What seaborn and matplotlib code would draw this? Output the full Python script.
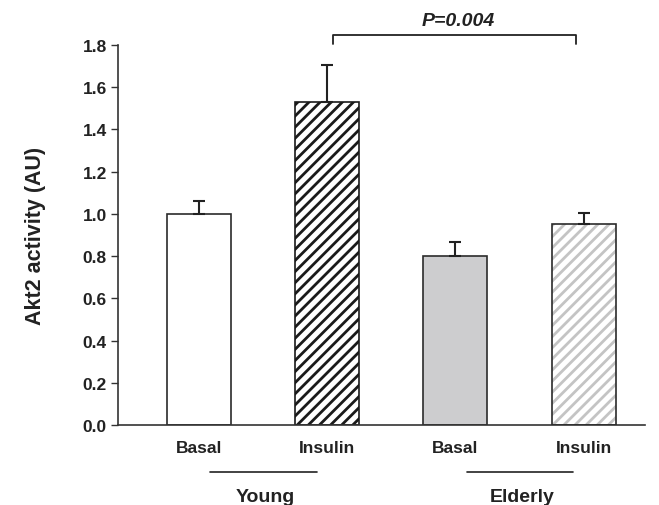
import numpy as np
import pandas as pd
import seaborn as sns
import matplotlib
matplotlib.use('Agg')
from matplotlib import pyplot as plt
import matplotlib.transforms as mtransforms

# data
groups = ['Young', 'Young', 'Elderly', 'Elderly']
conditions = ['Basal', 'Insulin', 'Basal', 'Insulin']
akt2 = [1.00, 1.53, 0.80, 0.95]
sem = [0.06, 0.175, 0.068, 0.055]
p_text = 'P=0.004'

sns.set_style('ticks')
plt.rcParams['font.family'] = ['Liberation Sans', 'DejaVu Sans']
plt.rcParams['font.weight'] = 'bold'
plt.rcParams['hatch.linewidth'] = 2.0

df = pd.DataFrame({'key': [g + ' ' + c for g, c in zip(groups, conditions)],
                   'value': akt2, 'err': sem})
order = list(df['key'])
fills = ['white', 'white', '#cdcdcf', 'white']
edge = '#2b2b2b'
txt = '#222222'

fig = plt.figure(figsize=(6.59, 5.06), dpi=100)
ax = fig.add_axes([0.179, 0.158, 0.8, 0.751])

sns.barplot(data=df, x='key', y='value', order=order, hue='key', palette=fills,
            legend=False, width=0.5, edgecolor=edge, linewidth=1.2, ax=ax)
bars = ax.patches
bars[1].set_hatch('///')
bars[1].set_edgecolor('#1a1a1a')
bars[3].set_hatch('///')
bars[3].set_edgecolor('#c4c4c4')
bars[3].set_linewidth(0)
# outline for the light hatched bar
ax.bar(np.arange(len(akt2))[3:], akt2[3:], width=0.5, fill=False, edgecolor=edge, linewidth=1.2, zorder=3)

x = np.arange(len(akt2))
ax.errorbar(x, akt2, yerr=[np.zeros(len(sem)), sem], fmt='none', ecolor=txt,
            elinewidth=1.5, capsize=4, capthick=1.5, zorder=4)

ax.set_xlim(-0.63, 3.48)
ax.set_ylim(0, 1.8)
yt = np.arange(0, 1.81, 0.2)
ax.set_yticks(yt)
ax.set_yticklabels(['%.1f' % v for v in yt], fontsize=12.5, fontweight='bold', color=txt)
ax.set_xticks(x)
ax.set_xticklabels(conditions, fontsize=12.5, fontweight='bold', color=txt)
ax.tick_params(axis='x', length=0, pad=11)
ax.tick_params(axis='y', length=5, width=1, color='#333333', direction='out', pad=3)
ax.set_xlabel('')
ax.set_ylabel('Akt2 activity (AU)', fontsize=15.5, fontweight='bold', color=txt, va='center')
ax.yaxis.set_label_coords(-0.157, 0.5)
for s in ['top', 'right']:
    ax.spines[s].set_visible(False)
for s in ['left', 'bottom']:
    ax.spines[s].set_color('#333333')
    ax.spines[s].set_linewidth(1.2)

# group lines and labels below the axis
trans = mtransforms.blended_transform_factory(ax.transData, ax.transAxes)
for i, g in [(0, 'Young'), (2, 'Elderly')]:
    ax.plot([i + 0.09, i + 0.92], [-0.124, -0.124], color=txt, lw=1.2,
            transform=trans, clip_on=False)
    ax.text(i + 0.52, -0.187, g, transform=trans, ha='center', va='center',
            fontsize=14, fontweight='bold', color=txt)

# significance bracket
ax.plot([1.05, 1.05, 2.94, 2.94], [1.806, 1.848, 1.848, 1.806], color=txt,
        lw=1.3, clip_on=False)
ax.text(2.02, 1.915, p_text, ha='center', va='center', fontsize=14,
        fontweight='bold', fontstyle='italic', color=txt)

plt.savefig('out.png', dpi=100)
